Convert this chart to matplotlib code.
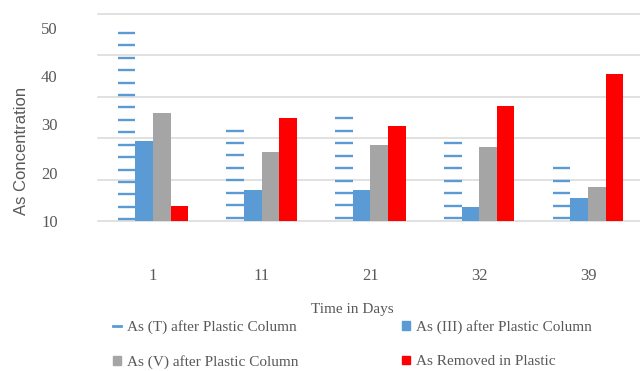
import numpy as np
import matplotlib.pyplot as plt
from matplotlib.lines import Line2D
from matplotlib.patches import Patch

# arsenic concentrations per sampling day
days = ['1', '11', '21', '32', '39']
as_total = [48.9, 28.7, 31.2, 26.05, 20.9]
as_iii = [26.5, 16.4, 16.4, 12.8, 14.7]
as_v = [32.25, 24.2, 25.7, 25.2, 17.0]
as_removed = [13.2, 31.3, 29.7, 33.8, 40.4]
y_ticks = [10, 20, 30, 40, 50]

BLUE = "#5B9BD5"
GREY = "#A5A5A5"
RED = "#FF0000"
GRID = "#D9D9D9"
TXT = "#595959"
SERIF = "Liberation Serif"

fig = plt.figure(figsize=(6.4, 3.71), dpi=100)
ax = fig.add_axes([0.153, 0.4043, 0.847, 0.558])

x = np.arange(len(days))
w = 0.162
ymin, ymax = 10, 52.8
dash_step = 2.57

# gridlines are spaced evenly over the plot height, independent of the tick labels
for g in np.linspace(ymin, ymax, 6):
    ax.axhline(g, color=GRID, lw=1.1, zorder=0, clip_on=False)

# total As drawn as a column of dashes (Excel "dashed horizontal" pattern)
for xi, h in zip(x, as_total):
    levels = np.arange(h, ymin + 0.2, -dash_step)
    ax.hlines(levels, xi - 2 * w, xi - w, color=BLUE, lw=1.7, zorder=2)

ax.bar(x - 0.5 * w, as_iii, w, color=BLUE, zorder=2)
ax.bar(x + 0.5 * w, as_v, w, color=GREY, zorder=2)
ax.bar(x + 1.5 * w, as_removed, w, color=RED, zorder=2)

ax.set_xlim(-0.506, 4.478)
ax.set_ylim(ymin, ymax)
ax.set_xticks(x)
ax.set_xticklabels(days)
ax.set_yticks(y_ticks)
ax.tick_params(which='both', length=0, labelcolor=TXT, labelsize=12)
ax.tick_params(axis='y', pad=29)
ax.tick_params(axis='x', pad=34)
for lab in ax.get_xticklabels() + ax.get_yticklabels():
    lab.set_family(SERIF)
for s in ax.spines.values():
    s.set_visible(False)

fig.text(22 / 640, 1 - 151 / 371, 'As Concentration', rotation=90,
         ha='center', va='center', fontsize=12, color=TXT, family='Liberation Sans')
fig.text(352 / 640, 1 - 310 / 371, 'Time in Days', ha='center', va='center',
         fontsize=11, color=TXT, family=SERIF)

leg_kw = dict(loc='upper left', frameon=False, handlelength=0.5, handleheight=0.5,
              handletextpad=0.4, labelspacing=1.4, borderpad=0, borderaxespad=0,
              prop={'family': SERIF, 'size': 11}, labelcolor=TXT)
fig.legend([Line2D([], [], color=BLUE, lw=2), Patch(color=GREY)],
           ['As (T) after Plastic Column', 'As (V) after Plastic Column'],
           bbox_to_anchor=(113 / 640, 1 - 320 / 371), **leg_kw)
fig.legend([Patch(color=BLUE), Patch(color=RED)],
           ['As (III) after Plastic Column', 'As Removed in Plastic'],
           bbox_to_anchor=(402 / 640, 1 - 320 / 371), **leg_kw)

fig.savefig('out.png', dpi=100)
